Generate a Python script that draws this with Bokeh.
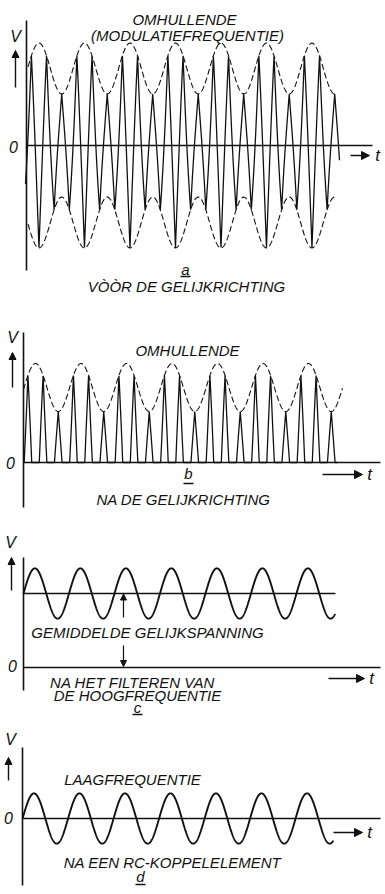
import numpy as np
from bokeh.plotting import figure
from bokeh.models import Range1d, Arrow, NormalHead
from bokeh.layouts import column
from bokeh.core.properties import value
from bokeh.embed import file_html
from bokeh.resources import INLINE

# ---------------- values ----------------
# time in modulation periods, voltage relative to mean carrier amplitude / DC level
CARRIER_PER_MOD = 3                    # carrier cycles per modulation cycle
ENV_DEPTH = [0.33, 0.32]               # modulation depth, panels a, b
ENV_PEAK_T = [0.34, 0.264]             # time of first envelope maximum, panels a, b
SIGNAL_T = [[0.044, 6.945], [0.0, 6.90]]   # drawn extent of the carrier, panels a, b
ENVELOPE_T = [[0.10, 6.86], [0.0, 7.01]]   # drawn extent of the dashed envelope
LF_AMP = [0.34, 0.34]                  # audio amplitude, panels c, d
LF_DC = [1.0, 0.0]                     # mean DC level, panels c, d
LF_START = [0.0, -0.02]                # rising zero crossing, panels c, d
LF_END = [6.85, 6.81]
DC_LINE_T = [0.0, 6.857]               # drawn extent of the mean DC line (panel c)

TITLES = ["OMHULLENDE", "(MODULATIEFREQUENTIE)", "OMHULLENDE", "GEMIDDELDE GELIJKSPANNING",
          "LAAGFREQUENTIE"]
CAPTIONS = ["VÒÒR DE GELIJKRICHTING", "NA DE GELIJKRICHTING",
            "NA HET FILTEREN VAN", "DE HOOGFREQUENTIE", "NA EEN RC-KOPPELELEMENT"]
LETTERS = ["a", "b", "c", "d"]

# ---------------- layout helpers (pixel positions of the picture) ----------------
FIG_W = 385
X_PX0, X_PX_PER = 23.0, 45.5


def xd(px):
    return (px - X_PX0) / X_PX_PER


FONT = value("Liberation Sans")
BLACK = "#111111"
TXT = "15px"


class Panel:
    def __init__(self, top, height, zero, scale):
        self.top, self.height, self.zero, self.scale = top, height, zero, scale
        self.p = figure(width=FIG_W, height=height,
                        x_range=Range1d(xd(0), xd(FIG_W)),
                        y_range=Range1d(self.yd(top + height), self.yd(top)),
                        x_axis_type=None, y_axis_type=None,
                        output_backend="svg", toolbar_location=None,
                        min_border=0, min_border_left=0, min_border_right=0,
                        min_border_top=0, min_border_bottom=0)
        self.p.grid.visible = False
        self.p.outline_line_color = None
        self.p.background_fill_color = "white"

    def yd(self, py):
        return (self.zero - py) / self.scale

    def line(self, x0, y0, x1, y1, w=1.5):
        self.p.line([xd(x0), xd(x1)], [self.yd(y0), self.yd(y1)], line_color=BLACK, line_width=w)

    def arrow(self, x0, y0, x1, y1, size=7, w=1.4):
        self.p.add_layout(Arrow(end=NormalHead(size=size, fill_color=BLACK, line_color=BLACK),
                                x_start=xd(x0), y_start=self.yd(y0), x_end=xd(x1), y_end=self.yd(y1),
                                line_color=BLACK, line_width=w))

    def text(self, px, py, s, size=TXT, align="center"):
        self.p.text(x=[xd(px)], y=[self.yd(py)], text=[s], text_font=FONT,
                    text_font_style="italic", text_font_size=size, text_color=BLACK,
                    text_align=align, text_baseline="middle")

    def letter(self, px, py, s, uy):
        self.text(px, py, s, size="15px")
        self.line(px - 5, uy, px + 5, uy, w=1.4)

    def axes(self, ax_x, ax_top, ax_bot, zero_end, v_xy, arrow_v, zero_lbl, t_arrow):
        self.line(ax_x, ax_top, ax_x, ax_bot, w=1.6)
        self.line(ax_x, self.zero, zero_end, self.zero, w=1.6)
        self.text(v_xy[0], v_xy[1], "V", size="16px")
        self.arrow(*arrow_v)
        self.text(zero_lbl[0], zero_lbl[1], "0", size="16px")
        self.arrow(*t_arrow[:4], size=8)
        self.text(t_arrow[4], t_arrow[1], "t", size="17px")


def carrier(phase):
    # hand-drawn carrier: straight strokes between pointed peaks (peak +1 at phase 0.5)
    return 1 - 4 * np.abs(np.mod(phase, 1.0) - 0.5)


def envelope(k, t):
    return 1 + ENV_DEPTH[k] * np.cos(2 * np.pi * (t - ENV_PEAK_T[k]))


def am_signal(k, t):
    return envelope(k, t) * carrier(CARRIER_PER_MOD * (t - ENV_PEAK_T[k]))


# ---------------- panel a ----------------
A = Panel(top=0, height=300, zero=145, scale=77)
t = np.linspace(SIGNAL_T[0][0], SIGNAL_T[0][1], 6000)
A.p.line(t, am_signal(0, t), line_color=BLACK, line_width=1.3)
te = np.linspace(ENVELOPE_T[0][0], ENVELOPE_T[0][1], 800)
A.p.line(te, envelope(0, te), line_color=BLACK, line_width=1.1, line_dash="6 3")
A.p.line(te, -envelope(0, te), line_color=BLACK, line_width=1.1, line_dash="6 3")
A.axes(26, 20, 270, 372, (15, 36), (15, 87, 15, 50), (13, 146), (350, 155, 369, 155, 377))
A.text(184, 19, TITLES[0])
A.text(187, 35, TITLES[1])
A.letter(185, 269, LETTERS[0], 276)
A.text(186, 286, CAPTIONS[0])

# ---------------- panel b ----------------
B = Panel(top=300, height=212, zero=462, scale=75)
t = np.linspace(SIGNAL_T[1][0], SIGNAL_T[1][1], 6000)
B.p.line(t, np.maximum(am_signal(1, t), 0), line_color=BLACK, line_width=1.3)
te = np.linspace(ENVELOPE_T[1][0], ENVELOPE_T[1][1], 800)
B.p.line(te, envelope(1, te), line_color=BLACK, line_width=1.1, line_dash="6 3")
B.axes(23, 332, 507, 380, (12, 337), (12, 387, 12, 352), (10, 462), (322, 474, 362, 474, 369))
B.text(187, 350, TITLES[2])
B.letter(188, 473, LETTERS[1], 483)
B.text(183, 499, CAPTIONS[1])

# ---------------- panel c ----------------
C = Panel(top=512, height=208, zero=667, scale=74)
t = np.linspace(LF_START[0], LF_END[0], 2000)
C.p.line(t, LF_DC[0] + LF_AMP[0] * np.sin(2 * np.pi * (t - LF_START[0])),
         line_color=BLACK, line_width=1.9)
C.p.line(DC_LINE_T, [LF_DC[0], LF_DC[0]], line_color=BLACK, line_width=1.6)
C.axes(23, 557, 690, 380, (10, 542), (11, 590, 11, 557), (12, 665), (328, 678, 364, 678, 371))
C.arrow(123, 617, 123, 593.5, size=6, w=1.2)
C.arrow(123, 645, 123, 666, size=6, w=1.2)
C.text(147, 632, TITLES[3])
C.text(132, 682, CAPTIONS[2])
C.text(137, 695, CAPTIONS[3])
C.letter(137, 707, LETTERS[2], 714)

# ---------------- panel d ----------------
D = Panel(top=720, height=174, zero=818, scale=74)
t = np.linspace(LF_START[1], LF_END[1], 2000)
D.p.line(t, LF_DC[1] + LF_AMP[1] * np.sin(2 * np.pi * (t - LF_START[1])),
         line_color=BLACK, line_width=1.9)
D.axes(22, 747, 885, 380, (10, 739), (8, 780, 8, 757), (8, 817), (333, 832, 362, 832, 369))
D.text(132, 779, TITLES[4])
D.text(172, 862, CAPTIONS[4])
D.letter(140, 876, LETTERS[3], 884)

layout = column(A.p, B.p, C.p, D.p, spacing=0)
open("out.html", "w").write(file_html(layout, INLINE))
